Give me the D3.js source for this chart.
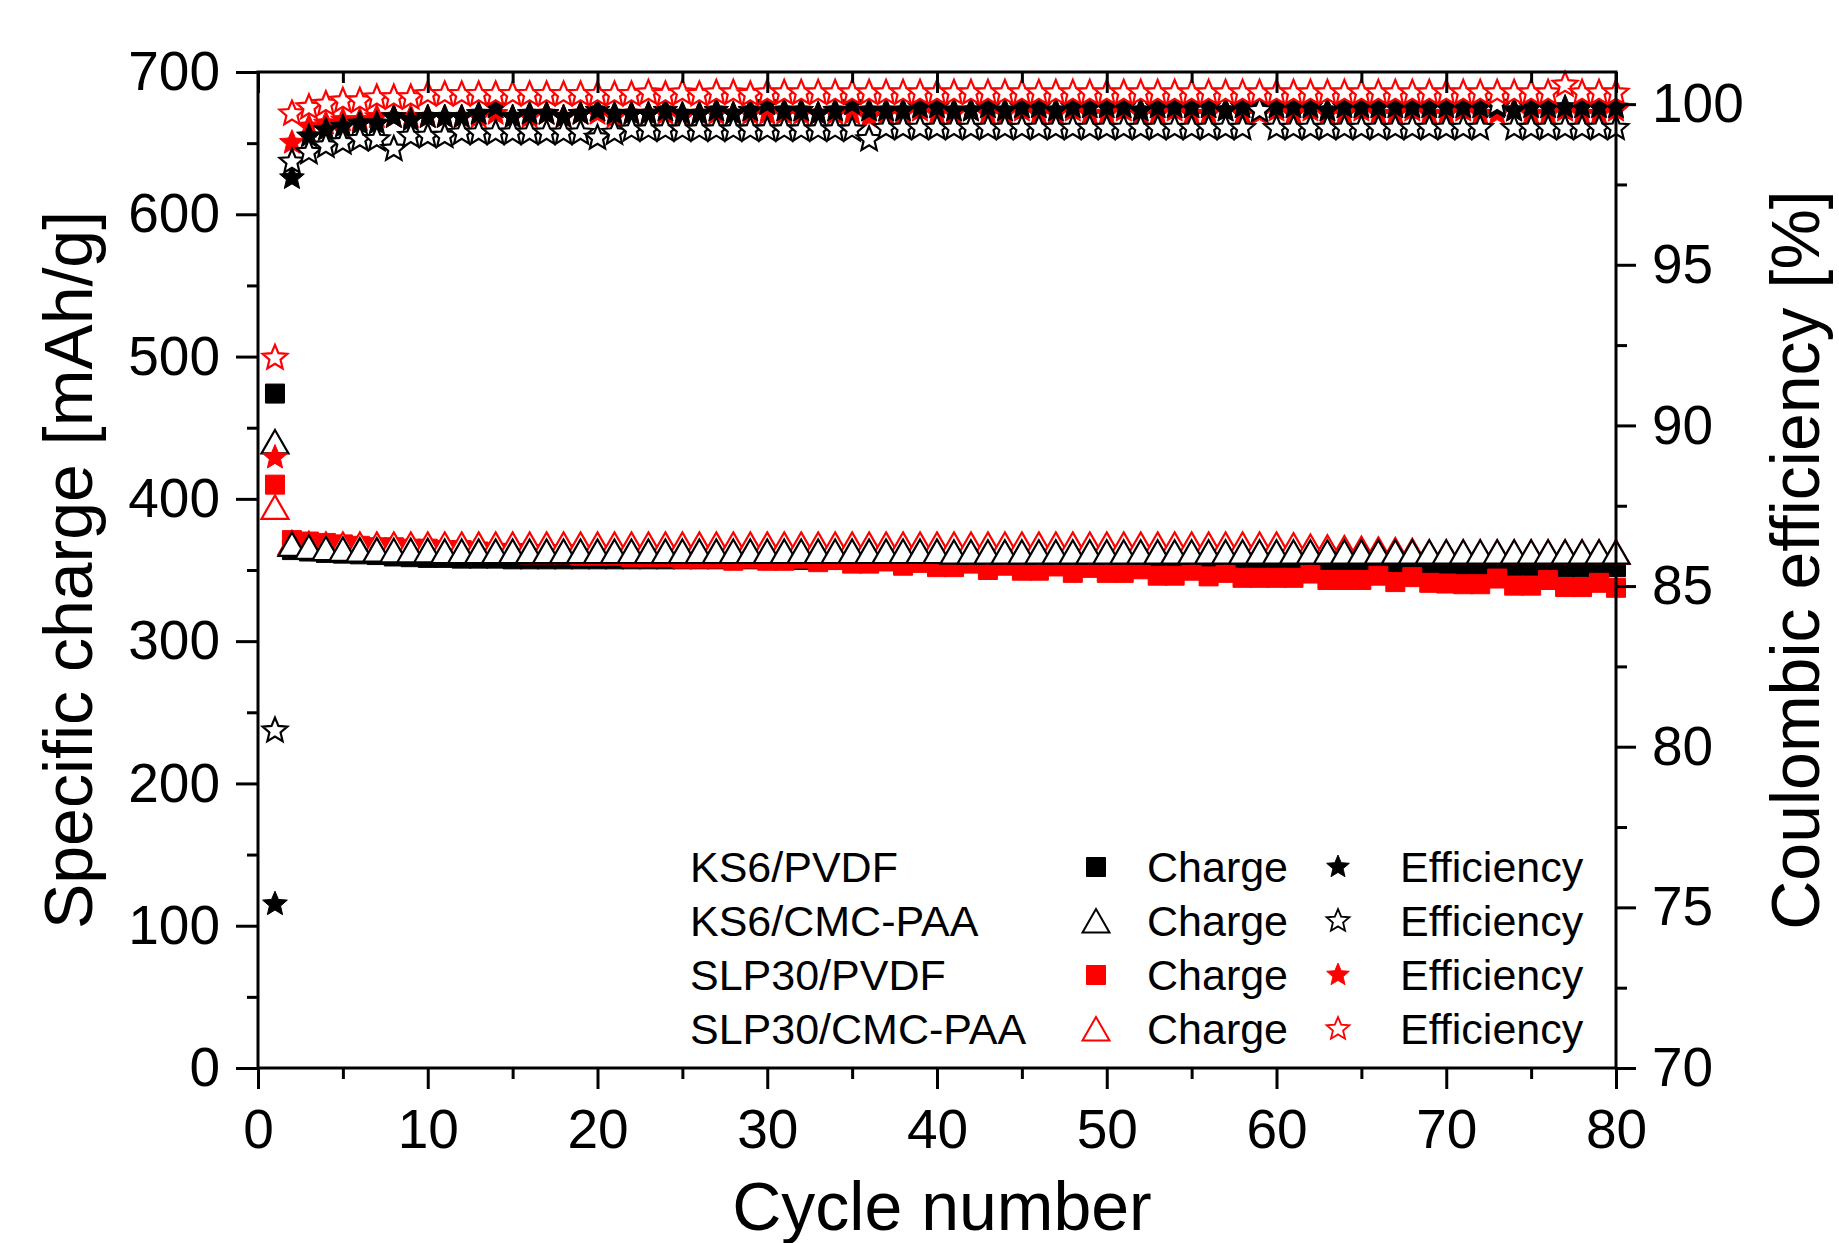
<!DOCTYPE html>
<html>
<head>
<meta charset="utf-8">
<script src="https://cdn.jsdelivr.net/npm/d3@7"></script>
<style>
  body { margin: 0; background: #fff; }
  svg { display: block; }
  text { font-family: "Liberation Sans", Arial, sans-serif; fill: #000; }
</style>
</head>
<body>
<svg id="chart" width="1839" height="1243"></svg>
<script>
// cycle numbers (x)
const cycles = [1,2,3,4,5,6,7,8,9,10,11,12,13,14,15,16,17,18,19,20,
  21,22,23,24,25,26,27,28,29,30,31,32,33,34,35,36,37,38,39,40,
  41,42,43,44,45,46,47,48,49,50,51,52,53,54,55,56,57,58,59,60,
  61,62,63,64,65,66,67,68,69,70,71,72,73,74,75,76,77,78,79,80];

// specific charge [mAh/g]
const ks6PvdfCharge = [474, 364, 363, 362, 361.5, 361, 360.5, 359.5, 359, 358.5,
  358.5, 358, 358, 358, 357.5, 357.5, 357.5, 357.5, 357.5, 357.5,
  357.5, 357.5, 357.5, 357.5, 357.5, 357.5, 357.5, 357.5, 357.5, 357.5,
  357, 357, 357, 357, 357, 357, 356.5, 356.5, 356.5, 356.5,
  356, 356, 356, 356, 356, 355.5, 355.5, 355.5, 355.5, 355,
  355, 355, 355, 355, 354.5, 354.5, 354.5, 354.5, 354, 354,
  354, 354, 354, 353.5, 353.5, 353.5, 353.5, 353, 353, 353,
  353, 352.5, 352.5, 352.5, 352.5, 352, 352, 352, 352, 352];
const ks6CmcCharge = [440, 368, 366, 365, 364.5, 364, 364, 363.5, 363.5, 363.5,
  363, 363, 363, 363, 363, 363, 363, 363, 363, 363,
  363, 363, 363, 363, 363, 363, 363, 363, 363, 363,
  363, 363, 363, 363, 363, 363, 363, 363, 363, 363,
  362.5, 362.5, 362.5, 362.5, 362.5, 362.5, 362.5, 362.5, 362.5, 362.5,
  362.5, 362.5, 362.5, 362.5, 362.5, 362.5, 362.5, 362.5, 362.5, 362.5,
  362.5, 362.5, 362.5, 362.5, 362.5, 362.5, 362.5, 362.5, 362.5, 362.5,
  362.5, 362.5, 362.5, 362.5, 362.5, 362.5, 362.5, 362.5, 362.5, 362.5];
const slp30PvdfCharge = [410, 371, 370, 369, 368, 367, 366, 366, 365, 365,
  364, 364, 363, 362, 362, 361, 361, 361, 360, 360,
  360, 359, 359, 359, 358, 358, 358, 356.5, 358, 356.5,
  356.5, 358, 355.5, 357, 354.5, 354.5, 356, 353, 355, 352,
  352, 354.5, 350, 353, 349.5, 349.5, 352.5, 348, 351.5, 348,
  348, 350.5, 346, 346, 349.5, 345.5, 348, 344.5, 344.5, 344.5,
  344.5, 347.5, 343, 343, 343, 346, 341.5, 345, 341, 340.5,
  340, 340, 344, 339, 339, 343, 338, 338, 341, 337.5];
const slp30CmcCharge = [394, 369, 368.5, 368, 368, 368, 368, 368, 368, 368,
  368, 368, 368, 368, 368, 368, 368, 368, 368, 368,
  368, 368, 368, 368, 368, 368, 368, 368, 368, 368,
  368, 368, 368, 368, 368, 368, 368, 368, 368, 368,
  368, 368, 368, 368, 368, 368, 368, 368, 368, 368,
  368, 368, 368, 368, 368, 368, 368, 368, 368, 368,
  367.5, 366.5, 366, 365.5, 365, 364.5, 364, 363.5, 362.5, 362.5,
  362.5, 362.5, 362.5, 362.5, 362.5, 362.5, 362.5, 362.5, 362.5, 362.5];

// coulombic efficiency [%]
const ks6PvdfEff = [75.1, 97.7, 99.0, 99.2, 99.3, 99.4, 99.4, 99.6, 99.5, 99.6,
  99.6, 99.6, 99.7, 99.9, 99.6, 99.7, 99.7, 99.6, 99.7, 99.8,
  99.7, 99.7, 99.7, 99.8, 99.7, 99.7, 99.8, 99.7, 99.8, 100.0,
  99.8, 99.8, 99.7, 99.8, 100.0, 99.8, 99.8, 99.8, 99.9, 99.9,
  99.8, 99.8, 99.9, 99.8, 99.9, 99.9, 99.8, 99.9, 99.9, 99.9,
  99.9, 99.8, 99.9, 99.9, 99.9, 99.9, 99.8, 99.9, 99.9, 99.9,
  99.9, 99.9, 99.8, 99.9, 99.9, 99.9, 99.9, 99.9, 99.9, 99.9,
  99.9, 99.9, 99.9, 99.8, 99.9, 99.9, 99.9, 99.9, 99.9, 99.9];
const ks6CmcEff = [80.5, 98.2, 98.5, 98.7, 98.8, 98.9, 98.9, 98.6, 99.0, 99.0,
  99.0, 99.1, 99.1, 99.1, 99.1, 99.1, 99.1, 99.1, 99.1, 98.95,
  99.1, 99.2, 99.2, 99.2, 99.2, 99.2, 99.2, 99.2, 99.2, 99.2,
  99.2, 99.2, 99.2, 99.2, 99.2, 98.9, 99.25, 99.25, 99.25, 99.25,
  99.25, 99.25, 99.25, 99.25, 99.25, 99.25, 99.25, 99.25, 99.25, 99.25,
  99.25, 99.25, 99.25, 99.25, 99.25, 99.25, 99.25, 99.25, 99.8, 99.25,
  99.25, 99.25, 99.25, 99.25, 99.25, 99.25, 99.25, 99.25, 99.25, 99.25,
  99.25, 99.25, 100.0, 99.25, 99.25, 99.25, 99.25, 99.25, 99.25, 99.25];
const slp30PvdfEff = [89.0, 98.8, 99.3, 99.4, 99.5, 99.5, 99.6, 99.6, 99.6, 99.6,
  99.6, 99.6, 99.6, 99.7, 99.6, 99.6, 99.7, 99.6, 99.7, 99.7,
  99.6, 99.7, 99.7, 99.7, 99.6, 99.7, 99.7, 99.7, 99.7, 99.7,
  99.7, 99.7, 99.7, 99.7, 99.7, 99.6, 99.7, 99.7, 99.8, 99.7,
  99.7, 99.8, 99.7, 99.7, 99.8, 99.7, 99.7, 99.8, 99.7, 99.7,
  99.8, 99.7, 99.7, 99.8, 99.7, 99.7, 99.8, 99.7, 99.7, 99.8,
  99.7, 99.8, 99.7, 99.7, 99.8, 99.7, 99.7, 99.8, 99.7, 99.7,
  99.8, 99.7, 99.7, 99.8, 99.7, 99.7, 99.8, 99.7, 99.7, 99.8];
const slp30CmcEff = [92.1, 99.7, 99.9, 100.0, 100.1, 100.1, 100.2, 100.2, 100.2, 100.3,
  100.3, 100.3, 100.3, 100.3, 100.3, 100.3, 100.3, 100.3, 100.3, 100.3,
  100.3, 100.3, 100.35, 100.3, 100.35, 100.3, 100.35, 100.35, 100.3, 100.35,
  100.35, 100.35, 100.35, 100.35, 100.35, 100.35, 100.35, 100.35, 100.35, 100.35,
  100.35, 100.35, 100.35, 100.35, 100.35, 100.35, 100.35, 100.35, 100.35, 100.35,
  100.35, 100.35, 100.35, 100.35, 100.35, 100.35, 100.35, 100.35, 100.35, 100.35,
  100.35, 100.35, 100.35, 100.35, 100.35, 100.35, 100.35, 100.35, 100.35, 100.35,
  100.35, 100.35, 100.35, 100.35, 100.35, 100.35, 100.6, 100.35, 100.35, 100.35];

// tick labels
const xTicks = [0, 10, 20, 30, 40, 50, 60, 70, 80];
const xMinor = [5, 15, 25, 35, 45, 55, 65, 75];
const leftTicks = [0, 100, 200, 300, 400, 500, 600, 700];
const leftMinor = [50, 150, 250, 350, 450, 550, 650];
const rightTicks = [70, 75, 80, 85, 90, 95, 100];
const rightMinor = [72.5, 77.5, 82.5, 87.5, 92.5, 97.5];

const electrodes = ["KS6/PVDF", "KS6/CMC-PAA", "SLP30/PVDF", "SLP30/CMC-PAA"];

const RED = "#ff0000";

let svg = d3.select("#chart");

let margin = { top: 72, right: 223, bottom: 175, left: 258 };
let width = 1839 - margin.left - margin.right;
let height = 1243 - margin.top - margin.bottom;

let x = d3.scaleLinear().domain([0, 80]).range([margin.left, margin.left + width]);
let yLeft = d3.scaleLinear().domain([0, 700]).range([margin.top + height, margin.top]);
let yRight = d3.scaleLinear().domain([70, 101]).range([margin.top + height, margin.top]);

// marker shapes
const markerPath = (shape) => {
  if (shape == "square") return "M-9.5,-9.5h19v19h-19Z";
  if (shape == "triangle") return "M0,-12L13.5,11.5L-13.5,11.5Z";
  // five-point star
  let r = 13, ri = r * 0.45, pts = [];
  for (let i = 0; i < 10; i++) {
    let a = -Math.PI / 2 + i * Math.PI / 5;
    let rr = i % 2 == 0 ? r : ri;
    pts.push([rr * Math.cos(a), rr * Math.sin(a)]);
  }
  return "M" + pts.map(p => p[0].toFixed(2) + "," + p[1].toFixed(2)).join("L") + "Z";
};

// series in drawing order (back to front)
let series = [
  { values: ks6PvdfCharge, scale: yLeft, shape: "square", color: "#000", filled: true },
  { values: slp30PvdfCharge, scale: yLeft, shape: "square", color: RED, filled: true },
  { values: slp30CmcCharge, scale: yLeft, shape: "triangle", color: RED, filled: false },
  { values: ks6CmcCharge, scale: yLeft, shape: "triangle", color: "#000", filled: false },
  { values: slp30PvdfEff, scale: yRight, shape: "star", color: RED, filled: true },
  { values: ks6PvdfEff, scale: yRight, shape: "star", color: "#000", filled: true },
  { values: ks6CmcEff, scale: yRight, shape: "star", color: "#000", filled: false },
  { values: slp30CmcEff, scale: yRight, shape: "star", color: RED, filled: false }
];

let plot = svg.append("g").attr("class", "marks");

series.forEach((s) => {
  plot.append("g")
    .selectAll("path")
    .data(s.values.map((v, i) => ({ c: cycles[i], v: v })))
    .enter()
    .append("path")
    .attr("d", markerPath(s.shape))
    .attr("transform", d => `translate(${x(d.c)},${s.scale(d.v)})`)
    .attr("fill", s.filled ? s.color : "#fff")
    .attr("stroke", s.color)
    .attr("stroke-width", s.filled ? 1 : 2.2);
});

// axes
const styleAxis = (g) => {
  g.select(".domain").remove();
  g.selectAll(".tick line").attr("stroke", "#000").attr("stroke-width", 3);
  g.selectAll(".tick text").style("font-size", "55px").attr("fill", "#000");
};

svg.append("g")
  .attr("transform", `translate(0,${margin.top + height})`)
  .call(d3.axisBottom(x).tickValues(xTicks).tickSize(21).tickPadding(20).tickFormat(d3.format("d")))
  .call(styleAxis);
svg.append("g")
  .attr("transform", `translate(0,${margin.top + height})`)
  .call(d3.axisBottom(x).tickValues(xMinor).tickSize(11).tickFormat(""))
  .call(styleAxis);

svg.append("g")
  .attr("transform", `translate(0,${margin.top})`)
  .call(d3.axisTop(x).tickValues(xTicks).tickSize(-21).tickFormat(""))
  .call(styleAxis);
svg.append("g")
  .attr("transform", `translate(0,${margin.top})`)
  .call(d3.axisTop(x).tickValues(xMinor).tickSize(-11).tickFormat(""))
  .call(styleAxis);

svg.append("g")
  .attr("transform", `translate(${margin.left},0)`)
  .call(d3.axisLeft(yLeft).tickValues(leftTicks).tickSize(22).tickPadding(16).tickFormat(d3.format("d")))
  .call(styleAxis);
svg.append("g")
  .attr("transform", `translate(${margin.left},0)`)
  .call(d3.axisLeft(yLeft).tickValues(leftMinor).tickSize(11).tickFormat(""))
  .call(styleAxis);

svg.append("g")
  .attr("transform", `translate(${margin.left + width},0)`)
  .call(d3.axisRight(yRight).tickValues(rightTicks).tickSize(20).tickPadding(16).tickFormat(d3.format("d")))
  .call(styleAxis);
svg.append("g")
  .attr("transform", `translate(${margin.left + width},0)`)
  .call(d3.axisRight(yRight).tickValues(rightMinor).tickSize(11).tickFormat(""))
  .call(styleAxis);

// frame
svg.append("rect")
  .attr("x", margin.left)
  .attr("y", margin.top)
  .attr("width", width)
  .attr("height", height)
  .attr("fill", "none")
  .attr("stroke", "#000")
  .attr("stroke-width", 3);

// axis titles
svg.append("text")
  .attr("transform", `translate(92,${margin.top + height / 2}) rotate(-90)`)
  .attr("text-anchor", "middle")
  .style("font-size", "68px")
  .text("Specific charge [mAh/g]");

svg.append("text")
  .attr("transform", `translate(1819,560) rotate(-90)`)
  .attr("text-anchor", "middle")
  .style("font-size", "68px")
  .text("Coulombic efficiency [%]");

svg.append("text")
  .attr("x", 942)
  .attr("y", 1230)
  .attr("text-anchor", "middle")
  .style("font-size", "68px")
  .text("Cycle number");

// legend
let legendRows = [
  { label: electrodes[0], charge: series[0], eff: series[5] },
  { label: electrodes[1], charge: series[3], eff: series[6] },
  { label: electrodes[2], charge: series[1], eff: series[4] },
  { label: electrodes[3], charge: series[2], eff: series[7] }
];

let legend = svg.append("g").attr("class", "legend");
legendRows.forEach((row, i) => {
  let base = 882 + i * 54;
  legend.append("text").attr("x", 690).attr("y", base).style("font-size", "43px").text(row.label);
  [[row.charge, 1096], [row.eff, 1338]].forEach(([s, cx]) => {
    legend.append("path")
      .attr("d", markerPath(s.shape))
      .attr("transform", `translate(${cx},${base - 15})${s.shape == "star" ? " scale(0.92)" : ""}`)
      .attr("fill", s.filled ? s.color : "#fff")
      .attr("stroke", s.color)
      .attr("stroke-width", s.filled ? 1 : 2);
  });
  legend.append("text").attr("x", 1147).attr("y", base).style("font-size", "43px").text("Charge");
  legend.append("text").attr("x", 1400).attr("y", base).style("font-size", "43px").text("Efficiency");
});
</script>
</body>
</html>
